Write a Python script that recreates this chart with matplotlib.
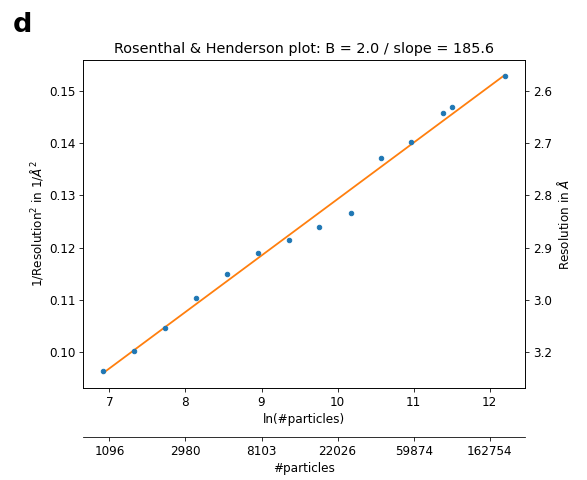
import matplotlib
matplotlib.use('Agg')
import matplotlib.pyplot as plt
import numpy as np

# ln(#particles) and 1/resolution^2
ln_particles = [6.917, 7.325, 7.73, 8.14, 8.55, 8.96, 9.36, 9.76, 10.17,
                10.57, 10.97, 11.38, 11.51, 12.20]
inv_res2 = [0.0965, 0.1002, 0.1047, 0.1104, 0.1150, 0.1189, 0.1215, 0.1240,
            0.1266, 0.1372, 0.1402, 0.1457, 0.1468, 0.1527]

x_ticks = [7, 8, 9, 10, 11, 12]
particle_labels = ['1096', '2980', '8103', '22026', '59874', '162754']
y_ticks = [0.10, 0.11, 0.12, 0.13, 0.14, 0.15]
res_labels = ['3.2', '3.0', '2.9', '2.8', '2.7', '2.6']

plt.rcParams['font.size'] = 12
plt.rcParams['xtick.major.size'] = 4.2
plt.rcParams['ytick.major.size'] = 4.2

slope, intercept = np.polyfit(ln_particles, inv_res2, 1)
x_fit = np.array([min(ln_particles), max(ln_particles)])

fig = plt.figure(figsize=(587/72, 480/72), dpi=72)
ax = fig.add_axes([83/587, 1-388/480, 442/587, 328/480])

ax.scatter(ln_particles, inv_res2, s=20, color='C0', zorder=3)
ax.plot(x_fit, intercept + slope*x_fit, color='C1', lw=1.8)

ax.set_xticks(x_ticks)
ax.set_yticks(y_ticks)
ax.set_yticklabels(['%.2f' % v for v in y_ticks])
ax.set_xlabel('ln(#particles)')
ax.set_ylabel(r'1/Resolution$^2$ in 1/$\AA^2$')
ax.set_title('Rosenthal & Henderson plot: B = %.1f / slope = %.1f' % (2.0, 2/slope),
             fontsize=14.4, pad=7)
xl = ax.get_xlim()
yl = ax.get_ylim()

# right axis: resolution
axr = ax.twinx()
axr.set_ylim(yl)
axr.set_yticks(y_ticks)
axr.set_yticklabels(res_labels)
axr.set_ylabel(r'Resolution in $\AA$')

# second bottom axis: #particles
axb = ax.twiny()
axb.set_xlim(xl)
axb.xaxis.set_ticks_position('bottom')
axb.xaxis.set_label_position('bottom')
axb.spines['bottom'].set_position(('outward', 49))
for s in ['top', 'left', 'right']:
    axb.spines[s].set_visible(False)
axb.set_xticks(x_ticks)
axb.set_xticklabels(particle_labels)
axb.set_xlabel('#particles')

fig.text(13/587, 1-32/480, 'd', fontsize=27, fontweight='bold', ha='left', va='baseline')

fig.savefig('out.png', dpi=72)
